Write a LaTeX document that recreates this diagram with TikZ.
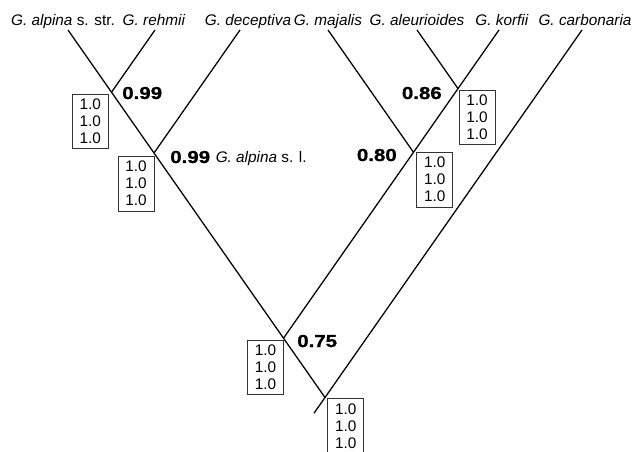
\documentclass[tikz,border=0pt]{standalone}
\usepackage{fontspec}
\setmainfont{Liberation Sans}
\newfontfamily\supfont[FakeStretch=1.18,FakeBold=1]{Liberation Sans Bold}
\usetikzlibrary{positioning}

\begin{document}
\begin{tikzpicture}[
  x=0.75pt, y=-0.75pt,
  taxon/.style={anchor=base, inner sep=0pt, font=\fontsize{11.5}{13}\selectfont},
  pp/.style={rectangle, draw=black!80, line width=0.6pt, outer sep=0pt, inner sep=0pt, align=center, minimum width=27pt, minimum height=41pt, font=\fontsize{11.5}{12.75}\selectfont},
  support/.style={inner sep=0pt, font=\supfont\fontsize{13}{15}\selectfont},
  branch/.style={line width=0.95pt}
]
  \clip (0,0) rectangle (634,452);
  \node[taxon] (alpina) at (63,26) {\textit{G. alpina} s. str.};
  \node[taxon] (rehmii) at (154,26) {\textit{G. rehmii}};
  \node[taxon] (deceptiva) at (248,26) {\textit{G. deceptiva}};
  \node[taxon] (majalis) at (328,26) {\textit{G. majalis}};
  \node[taxon] (aleur) at (417,26) {\textit{G. aleurioides}};
  \node[taxon] (korfii) at (502,26) {\textit{G. korfii}};
  \node[taxon] (carbon) at (585,26) {\textit{G. carbonaria}};
  \coordinate (t-alpina) at (68,30);
  \coordinate (t-rehmii) at (155,30);
  \coordinate (t-deceptiva) at (240,30);
  \coordinate (t-majalis) at (328,30);
  \coordinate (t-aleur) at (417,30);
  \coordinate (t-korfii) at (499,30);
  \coordinate (t-carbon) at (582,30);
  \coordinate (nA) at (111.5,92.2);
  \coordinate (nB) at (154,153);
  \coordinate (nD) at (458,88.6);
  \coordinate (nC) at (413.5,152.3);
  \coordinate (nE) at (283.5,338.2);
  \coordinate (nF) at (325,397.5);
  \coordinate (root) at (314,413.2);
  \draw[branch] (t-alpina) -- (nA) -- (nB) -- (nE) -- (nF) -- (root);
  \draw[branch] (t-rehmii) -- (nA);
  \draw[branch] (t-deceptiva) -- (nB);
  \draw[branch] (t-majalis) -- (nC);
  \draw[branch] (t-aleur) -- (nD);
  \draw[branch] (t-korfii) -- (nD) -- (nC) -- (nE);
  \draw[branch] (t-carbon) -- (nF);
  \node[pp, below left=1.5pt and 2.5pt of nA] (ppA) {1.0\\1.0\\1.0};
  \node[pp, below left=2.5pt and 0pt of nB] (ppB) {1.0\\1.0\\1.0};
  \node[pp, below right=1pt and 0.75pt of nD] (ppD) {1.0\\1.0\\1.0};
  \node[pp, below right=0pt and 2.5pt of nC] (ppC) {1.0\\1.0\\1.0};
  \node[pp, below left=1.5pt and 0pt of nE] (ppE) {1.0\\1.0\\1.0};
  \node[pp, below right=1pt and 2pt of nF] (ppF) {1.0\\1.0\\1.0};
  \node[support, anchor=base west] (bA) at (122,99) {0.99};
  \node[support, anchor=base west] (bB) at (170,163) {0.99 {\fontsize{11.5}{13}\selectfont\rmfamily\mdseries\textit{G. alpina} s. l.}};
  \node[support, anchor=base east] (bD) at (442,99) {0.86};
  \node[support, anchor=base east] (bC) at (397,161) {0.80};
  \node[support, anchor=base west] (bE) at (297,347) {0.75};
\end{tikzpicture}
\end{document}
